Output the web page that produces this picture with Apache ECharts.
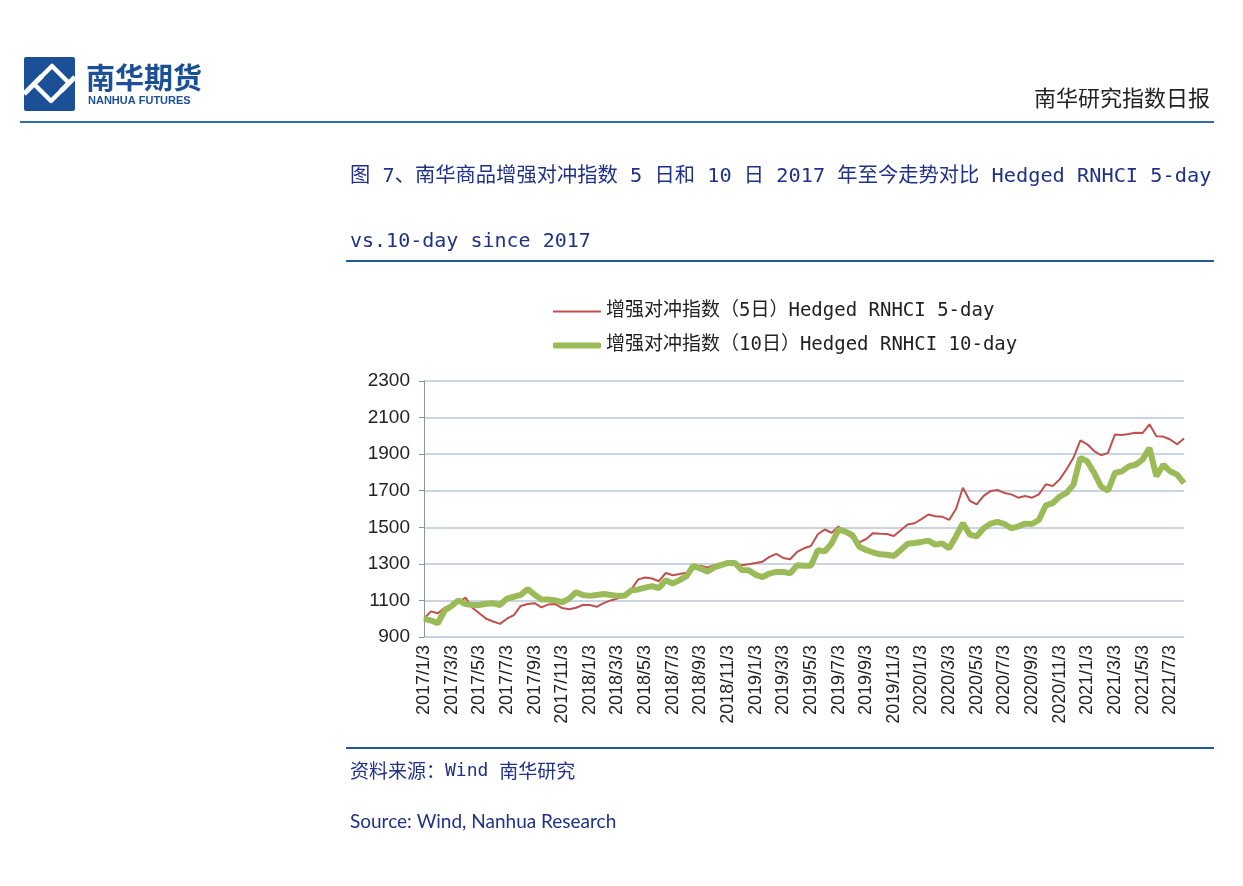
<!DOCTYPE html>
<html>
<head>
<meta charset="utf-8">
<script src="https://cdn.jsdelivr.net/npm/echarts@6/dist/echarts.min.js"></script>
<style>
  html, body { margin: 0; padding: 0; background: #fff; }
  #chart { width: 1243px; height: 886px; }
</style>
</head>
<body>
<div id="chart"></div>
<script>
// half-month sample dates, 2017/1/3 .. 2021/8/3
const categories = []
for (let y = 2017; y <= 2021; y++) {
  for (let m = 1; m <= 12; m++) {
    categories.push(`${y}/${m}/3`)
    if (y === 2021 && m === 8) break
    categories.push(`${y}/${m}/18`)
  }
}

const seriesNames = [
  '增强对冲指数（5日）Hedged RNHCI 5-day',
  '增强对冲指数（10日）Hedged RNHCI 10-day',
]

const hedged5 = [
  1000, 1040, 1030, 1060, 1075, 1090, 1115, 1060, 1030, 1000,
  985, 972, 1000, 1020, 1070, 1080, 1085, 1062, 1078, 1080,
  1058, 1052, 1060, 1075, 1075, 1065, 1085, 1100, 1110, 1122,
  1160, 1215, 1225, 1220, 1205, 1250, 1238, 1244, 1252, 1282,
  1290, 1280, 1293, 1303, 1300, 1296, 1292, 1298, 1305, 1312,
  1338, 1355, 1332, 1325, 1365, 1385, 1398, 1462, 1488, 1470,
  1504, 1472, 1442, 1418, 1436, 1468, 1465, 1463, 1452, 1484,
  1515, 1522, 1545, 1570, 1560, 1558, 1540, 1600, 1716, 1645,
  1625, 1672, 1698, 1704, 1688, 1680, 1662, 1671, 1662, 1680,
  1735, 1726, 1762, 1817, 1880, 1975, 1954, 1917, 1894, 1907,
  2008, 2005, 2010, 2017, 2015, 2063, 1998, 1996, 1980, 1954,
  1985,
]

const hedged10 = [
  1000, 990, 975, 1045, 1070, 1100, 1080, 1075, 1075, 1082,
  1085, 1075, 1110, 1120, 1130, 1162, 1132, 1105, 1105, 1100,
  1090, 1110, 1145, 1130, 1125, 1130, 1135, 1130, 1125, 1125,
  1155, 1160, 1170, 1178, 1168, 1210, 1193, 1211, 1233, 1290,
  1275, 1258, 1280, 1293, 1305, 1305, 1266, 1265, 1240, 1228,
  1247, 1256, 1256, 1248, 1292, 1290, 1290, 1375, 1368, 1412,
  1488, 1476, 1458, 1394, 1376, 1362, 1352, 1350, 1343, 1376,
  1410, 1414, 1420, 1427, 1405, 1412, 1385, 1450, 1522, 1460,
  1450, 1495, 1520, 1530, 1518, 1495, 1504, 1520, 1518, 1540,
  1620, 1632, 1668, 1688, 1733, 1880, 1860, 1797, 1723, 1700,
  1797, 1806, 1833, 1842, 1870, 1934, 1779, 1842, 1806, 1788,
  1742,
]

const NAVY = '#1f3189'
const RULE = '#1f5c9c'
const LOGO = '#1b4f96'
const RED = '#c0504d'
const GREEN = '#9bbb59'
const monoCjk = '"DejaVu Sans Mono", "Noto Sans CJK SC"'

const chart = echarts.init(document.getElementById('chart'))

chart.setOption({
  animation: false,
  backgroundColor: '#fff',
  graphic: [
    // logo
    { type: 'rect', shape: { x: 24, y: 57, width: 51, height: 54, r: 2 }, style: { fill: LOGO } },
    { type: 'polygon', shape: { points: [[34, 84], [52, 66], [69, 83], [51, 101]] },
      style: { stroke: '#fff', lineWidth: 4.5, fill: null, lineJoin: 'round' } },
    { type: 'line', shape: { x1: 24, y1: 94, x2: 42, y2: 76 }, style: { stroke: '#fff', lineWidth: 5 } },
    { type: 'line', shape: { x1: 61, y1: 91, x2: 75, y2: 77 }, style: { stroke: '#fff', lineWidth: 5 } },
    { type: 'text', style: { text: '南华期货', x: 86, y: 78, font: 'bold 29px "Noto Sans CJK SC"',
      fill: LOGO, textVerticalAlign: 'middle' } },
    { type: 'text', style: { text: 'NANHUA FUTURES', x: 88, y: 101, font: 'bold 11px "Liberation Sans"',
      fill: LOGO, textVerticalAlign: 'middle' } },
    { type: 'text', style: { text: '南华研究指数日报', x: 1210, y: 98, font: '22px "Noto Sans CJK SC"',
      fill: '#222', textAlign: 'right', textVerticalAlign: 'middle' } },
    { type: 'line', shape: { x1: 20, y1: 122, x2: 1214, y2: 122 }, style: { stroke: '#2e6db0', lineWidth: 2 } },

    // figure title
    { type: 'text', style: { text: '图 7、南华商品增强对冲指数 5 日和 10 日 2017 年至今走势对比 Hedged RNHCI 5-day',
      x: 350, y: 177, font: '20.3px ' + monoCjk, fill: NAVY, textVerticalAlign: 'middle' } },
    { type: 'text', style: { text: 'vs.10-day since 2017', x: 350, y: 242, font: '20px ' + monoCjk,
      fill: NAVY, textVerticalAlign: 'middle' } },
    { type: 'line', shape: { x1: 346, y1: 261, x2: 1214, y2: 261 }, style: { stroke: RULE, lineWidth: 2 } },

    // footer
    { type: 'line', shape: { x1: 346, y1: 748, x2: 1214, y2: 748 }, style: { stroke: RULE, lineWidth: 2 } },
    { type: 'text', style: {
      text: '{c|资料来源：}{m|Wind }{c|南华研究}', x: 350, y: 771, textVerticalAlign: 'middle',
      rich: {
        c: { fontFamily: 'Noto Sans CJK SC', fontSize: 19, fill: NAVY },
        m: { fontFamily: 'DejaVu Sans Mono', fontSize: 18, fill: NAVY },
      } } },
    { type: 'text', style: { text: 'Source: Wind, Nanhua Research', x: 350, y: 822, font: '19px Lato',
      fill: NAVY, textVerticalAlign: 'middle' } },
  ],
  legend: [
    {
      data: [{ name: seriesNames[0], icon: 'rect' }],
      left: 553, top: 302, padding: 0, itemWidth: 48, itemHeight: 2, itemGap: 5,
      itemStyle: { color: RED },
      textStyle: { fontSize: 19, fontFamily: monoCjk, color: '#222' },
    },
    {
      data: [{ name: seriesNames[1], icon: 'roundRect' }],
      left: 553, top: 336, padding: 0, itemWidth: 48, itemHeight: 6, itemGap: 5,
      itemStyle: { color: GREEN },
      textStyle: { fontSize: 19, fontFamily: monoCjk, color: '#222' },
    },
  ],
  grid: { left: 424, right: 59, top: 381, bottom: 249, containLabel: false },
  xAxis: {
    type: 'category',
    data: categories,
    boundaryGap: false,
    axisLine: { lineStyle: { color: '#c3cfdd', width: 1 } },
    axisTick: { show: false },
    axisLabel: {
      interval: 3, rotate: 90, margin: 8,
      fontSize: 18, fontFamily: 'Liberation Sans', color: '#222',
    },
    splitLine: { show: false },
  },
  yAxis: {
    type: 'value',
    min: 900, max: 2300, interval: 200,
    axisLine: { show: true, lineStyle: { color: '#8c96a3', width: 1 } },
    axisTick: { show: true, length: 5, lineStyle: { color: '#8c96a3' } },
    axisLabel: {
      fontSize: 19, fontFamily: 'Liberation Sans', color: '#222', margin: 14,
      formatter: v => String(v),
    },
    splitLine: { lineStyle: { color: '#b8c6d8', width: 1.5 } },
  },
  series: [
    {
      name: seriesNames[0], type: 'line', data: hedged5,
      symbol: 'none', lineStyle: { color: RED, width: 2 },
      itemStyle: { color: RED },
    },
    {
      name: seriesNames[1], type: 'line', data: hedged10,
      symbol: 'none', lineStyle: { color: GREEN, width: 6 },
      itemStyle: { color: GREEN },
    },
  ],
})
</script>
</body>
</html>
